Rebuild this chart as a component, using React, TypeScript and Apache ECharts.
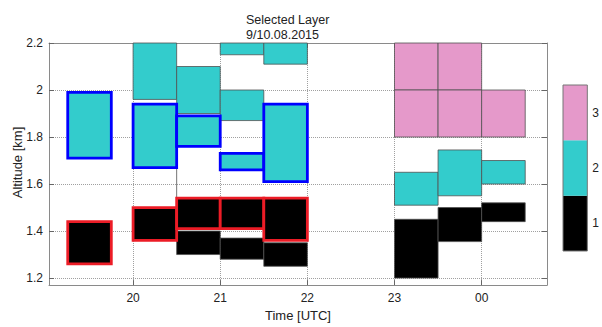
import React, { useEffect, useRef } from "react";
import * as echarts from "echarts";

const titleLines = ["Selected Layer", "9/10.08.2015"];
const xAxisName = "Time [UTC]";
const yAxisName = "Altitude [km]";

const timeTicks = [20, 21, 22, 23, 24];
const timeTickLabels = ["20", "21", "22", "23", "00"];
const altitudeTicks = [1.2, 1.4, 1.6, 1.8, 2.0, 2.2];
const altitudeTickLabels = ["1.2", "1.4", "1.6", "1.8", "2", "2.2"];

// [start hour, end hour, bottom km, top km, layer class]
const layerCells = [
  [20.0, 20.5, 1.96, 2.2, 2],
  [20.5, 21.0, 1.9, 2.1, 2],
  [20.5, 21.0, 1.3, 1.4, 1],
  [21.0, 21.5, 2.15, 2.2, 2],
  [21.0, 21.5, 1.87, 2.0, 2],
  [21.0, 21.5, 1.28, 1.37, 1],
  [21.5, 22.0, 2.11, 2.2, 2],
  [21.5, 22.0, 1.25, 1.35, 1],
  [23.0, 23.5, 2.0, 2.2, 3],
  [23.0, 23.5, 1.8, 2.0, 3],
  [23.0, 23.5, 1.51, 1.65, 2],
  [23.0, 23.5, 1.2, 1.45, 1],
  [23.5, 24.0, 2.0, 2.2, 3],
  [23.5, 24.0, 1.8, 2.0, 3],
  [23.5, 24.0, 1.55, 1.745, 2],
  [23.5, 24.0, 1.355, 1.5, 1],
  [24.0, 24.5, 1.8, 2.0, 3],
  [24.0, 24.5, 1.6, 1.7, 2],
  [24.0, 24.5, 1.44, 1.52, 1],
];

// selected layers: [start hour, end hour, bottom km, top km, layer class]
const selectedCells = [
  [19.25, 19.75, 1.71, 1.99, 2],
  [19.25, 19.75, 1.26, 1.44, 1],
  [20.0, 20.5, 1.67, 1.94, 2],
  [20.0, 20.5, 1.36, 1.5, 1],
  [20.5, 21.0, 1.76, 1.89, 2],
  [20.5, 21.0, 1.41, 1.54, 1],
  [21.0, 21.5, 1.66, 1.73, 2],
  [21.0, 21.5, 1.41, 1.54, 1],
  [21.5, 22.0, 1.61, 1.94, 2],
  [21.5, 22.0, 1.36, 1.54, 1],
];

// [hour, bottom km, top km]
const edgeLines = [[20.5, 1.54, 1.76]];

const classValues = [1, 2, 3];
const classLabels = ["1", "2", "3"];
const colorbarFrame = [[0, 1, 0.5, 3.5]];

const classColors = ["#000000", "#33CCCC", "#E599CA"];
const selectedBorder = ["#EC1C26", "#0000FF"];
const FONT = "'Liberation Sans', Arial, sans-serif";

export default function App() {
  const ref = useRef<HTMLDivElement>(null);
  useEffect(() => {
    if (!ref.current) return;
    const chart = echarts.init(ref.current, null, { renderer: "svg" });

    const rectItem = (api: any, selected: boolean) => {
      const x0 = api.value(0);
      const x1 = api.value(1);
      const y0 = api.value(2);
      const y1 = api.value(3);
      const cls = api.value(4);
      const p0 = api.coord([x0, y1]);
      const p1 = api.coord([x1, y0]);
      return {
        type: "rect",
        shape: { x: p0[0], y: p0[1], width: p1[0] - p0[0], height: p1[1] - p0[1] },
        style: selected
          ? { fill: classColors[cls - 1], stroke: selectedBorder[cls - 1], lineWidth: 2.8 }
          : { fill: classColors[cls - 1], stroke: "#505050", lineWidth: 0.8 },
      };
    };

    const axisLineStyle = { color: "#8a8a8a", width: 1 };
    const tickStyle = { color: "#666", width: 1 };
    const labelStyle = { color: "#222", fontSize: 12, fontFamily: FONT };

    chart.setOption({
      animation: false,
      title: {
        text: titleLines.join("\n"),
        left: 246,
        top: 12.5,
        padding: 0,
        textStyle: { fontSize: 12.5, fontWeight: "normal", color: "#222", fontFamily: FONT, lineHeight: 15 },
      },
      grid: [
        { left: 49, top: 43, width: 498, height: 249.5 },
        { left: 563, top: 85, width: 26, height: 166 },
      ],
      xAxis: [
        {
          type: "value",
          gridIndex: 0,
          min: 19.035,
          max: 24.75,
          position: "bottom",
          axisLine: { show: true, lineStyle: axisLineStyle },
          axisTick: { show: true, inside: true, length: 5, customValues: timeTicks, lineStyle: tickStyle },
          axisLabel: {
            ...labelStyle,
            margin: 7,
            customValues: timeTicks,
            formatter: (v: number) => timeTickLabels[timeTicks.indexOf(Math.round(v))] ?? "",
          },
          splitLine: { show: true, lineStyle: { type: "dotted", color: "#a0a0a0", width: 1 } },
          name: xAxisName,
          nameLocation: "middle",
          nameGap: 21,
          nameTextStyle: { fontSize: 13, color: "#222", fontFamily: FONT },
        },
        {
          type: "value",
          gridIndex: 0,
          min: 19.035,
          max: 24.75,
          position: "top",
          axisLine: { show: true, lineStyle: axisLineStyle },
          axisTick: { show: true, inside: true, length: 5, customValues: timeTicks, lineStyle: tickStyle },
          axisLabel: { show: false },
          splitLine: { show: false },
        },
        { type: "value", gridIndex: 1, min: 0, max: 1, show: false },
      ],
      yAxis: [
        {
          type: "value",
          gridIndex: 0,
          min: 1.17,
          max: 2.2,
          position: "left",
          axisLine: { show: true, lineStyle: axisLineStyle },
          axisTick: { show: true, inside: true, length: 5, customValues: altitudeTicks, lineStyle: tickStyle },
          axisLabel: {
            ...labelStyle,
            margin: 6,
            customValues: altitudeTicks,
            formatter: (v: number) => {
              const i = altitudeTicks.findIndex((t) => Math.abs(t - v) < 1e-6);
              return i >= 0 ? altitudeTickLabels[i] : "";
            },
          },
          splitLine: { show: true, lineStyle: { type: "dotted", color: "#a0a0a0", width: 1 } },
        },
        {
          type: "value",
          gridIndex: 0,
          min: 1.17,
          max: 2.2,
          position: "right",
          axisLine: { show: true, lineStyle: axisLineStyle },
          axisTick: { show: true, inside: true, length: 5, customValues: altitudeTicks, lineStyle: tickStyle },
          axisLabel: { show: false },
          splitLine: { show: false },
        },
        {
          type: "value",
          gridIndex: 1,
          min: 0.5,
          max: 3.5,
          position: "right",
          axisLine: { show: false },
          axisTick: { show: false },
          splitLine: { show: false },
          axisLabel: {
            ...labelStyle,
            margin: 5,
            customValues: classValues,
            formatter: (v: number) => classLabels[classValues.indexOf(Math.round(v))] ?? "",
          },
        },
      ],
      graphic: [
        {
          type: "text",
          x: 17.5,
          y: 162.5,
          rotation: Math.PI / 2,
          style: {
            text: yAxisName,
            align: "center",
            verticalAlign: "middle",
            fontSize: 13,
            fill: "#222",
            fontFamily: FONT,
          },
        },
      ],
      series: [
        {
          type: "custom",
          xAxisIndex: 0,
          yAxisIndex: 0,
          z: 2,
          data: edgeLines,
          renderItem: (_p: any, api: any) => {
            const a = api.coord([api.value(0), api.value(1)]);
            const b = api.coord([api.value(0), api.value(2)]);
            return {
              type: "line",
              shape: { x1: a[0], y1: a[1], x2: b[0], y2: b[1] },
              style: { stroke: "#505050", lineWidth: 0.8 },
            };
          },
        },
        {
          type: "custom",
          xAxisIndex: 0,
          yAxisIndex: 0,
          z: 3,
          data: layerCells,
          renderItem: (_p: any, api: any) => rectItem(api, false),
        },
        {
          type: "custom",
          xAxisIndex: 0,
          yAxisIndex: 0,
          z: 4,
          data: selectedCells,
          renderItem: (_p: any, api: any) => rectItem(api, true),
        },
        {
          type: "custom",
          xAxisIndex: 2,
          yAxisIndex: 2,
          z: 3,
          data: classValues.map((c) => [c]),
          renderItem: (_p: any, api: any) => {
            const c = api.value(0);
            const p0 = api.coord([0, c + 0.5]);
            const p1 = api.coord([1, c - 0.5]);
            return {
              type: "rect",
              shape: { x: p0[0], y: p0[1], width: p1[0] - p0[0], height: p1[1] - p0[1] },
              style: { fill: classColors[c - 1] },
            };
          },
        },
        {
          type: "custom",
          xAxisIndex: 2,
          yAxisIndex: 2,
          z: 4,
          data: colorbarFrame,
          renderItem: (_p: any, api: any) => {
            const p0 = api.coord([api.value(0), api.value(3)]);
            const p1 = api.coord([api.value(1), api.value(2)]);
            return {
              type: "rect",
              shape: { x: p0[0], y: p0[1], width: p1[0] - p0[0], height: p1[1] - p0[1] },
              style: { fill: "none", stroke: "#777", lineWidth: 1 },
            };
          },
        },
      ],
    });
    return () => chart.dispose();
  }, []);
  return (
    <div
      ref={ref}
      style={{ position: "fixed", left: 0, top: 0, width: 602, height: 327, background: "#fff" }}
    />
  );
}
